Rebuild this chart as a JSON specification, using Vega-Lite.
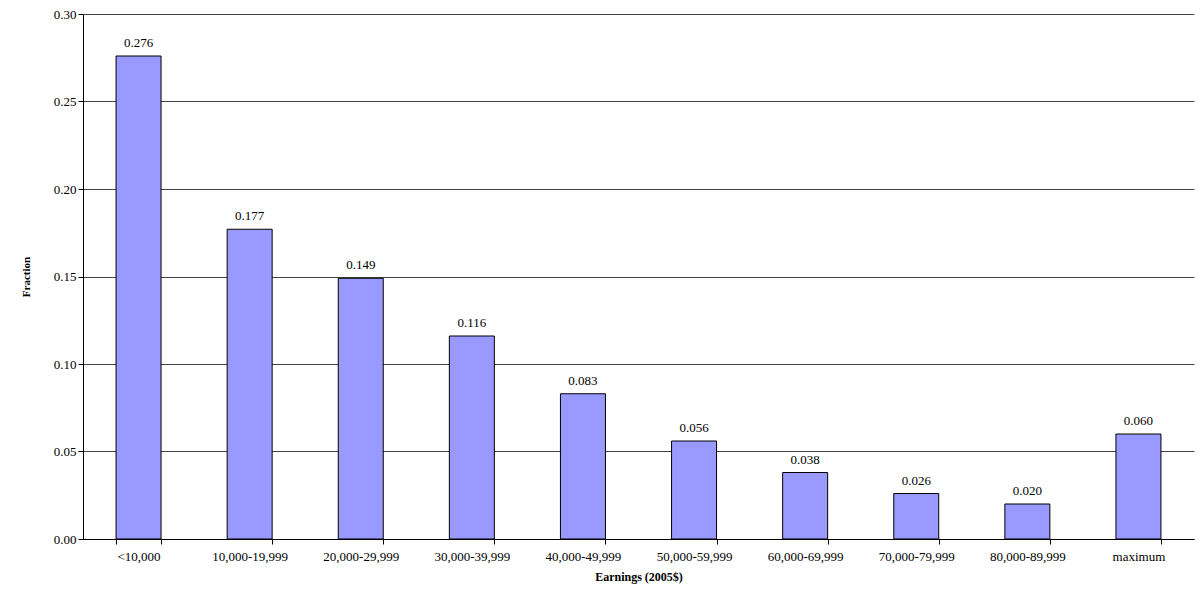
{
  "$schema": "https://vega.github.io/schema/vega-lite/v6.json",
  "width": 1111,
  "height": 525,
  "autosize": {"type": "none"},
  "padding": {"left": 83, "top": 14, "right": 7, "bottom": 51},
  "background": "white",
  "data": {
    "values": [
      {"bin": "<10,000", "fraction": 0.276},
      {"bin": "10,000-19,999", "fraction": 0.177},
      {"bin": "20,000-29,999", "fraction": 0.149},
      {"bin": "30,000-39,999", "fraction": 0.116},
      {"bin": "40,000-49,999", "fraction": 0.083},
      {"bin": "50,000-59,999", "fraction": 0.056},
      {"bin": "60,000-69,999", "fraction": 0.038},
      {"bin": "70,000-79,999", "fraction": 0.026},
      {"bin": "80,000-89,999", "fraction": 0.020},
      {"bin": "maximum", "fraction": 0.060}
    ]
  },
  "encoding": {
    "x": {
      "field": "bin",
      "type": "nominal",
      "sort": null,
      "title": "Earnings (2005$)",
      "scale": {"paddingInner": 0.595, "paddingOuter": 0.2975},
      "axis": {"labelAngle": 0, "tickBand": "extent", "domainColor": "black", "tickColor": "black", "labelFontSize": 13, "titleFontSize": 12, "titleFontWeight": "bold", "labelPadding": 6, "titlePadding": 8}
    },
    "y": {
      "field": "fraction",
      "type": "quantitative",
      "title": "Fraction",
      "scale": {"domain": [0, 0.3]},
      "axis": {"values": [0, 0.05, 0.1, 0.15, 0.2, 0.25, 0.3], "format": ".2f", "gridColor": "#444", "domainColor": "black", "tickColor": "black", "labelFontSize": 13, "titleFontSize": 11, "titleFontWeight": "bold", "titlePadding": 22}
    }
  },
  "layer": [
    {"mark": {"type": "bar", "color": "#9999ff", "stroke": "black", "strokeWidth": 1}},
    {
      "mark": {"type": "text", "baseline": "bottom", "dy": -6, "fontSize": 13, "font": "Liberation Serif"},
      "encoding": {"text": {"field": "fraction", "type": "quantitative", "format": ".3f"}}
    }
  ],
  "config": {
    "font": "Liberation Serif",
    "view": {"stroke": null},
    "axis": {"labelFont": "Liberation Serif", "titleFont": "Liberation Serif", "labelColor": "black", "titleColor": "black"}
  }
}
